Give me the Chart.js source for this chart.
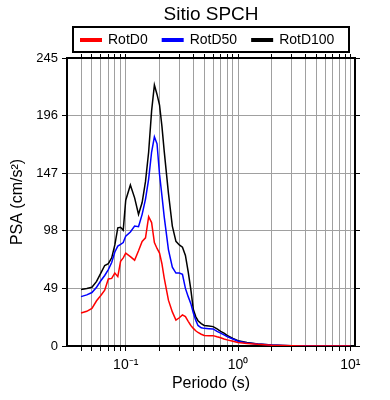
<!DOCTYPE html>
<html>
<head>
<meta charset="utf-8">
<script src="https://cdn.jsdelivr.net/npm/chart.js@4/dist/chart.umd.min.js"></script>
<style>
  html, body { margin: 0; padding: 0; background: #fff; }
</style>
</head>
<body>
<canvas id="psaChart" width="390" height="400"></canvas>
<script>
// Periodo (s)
const periods = [0.04, 0.045, 0.05, 0.055, 0.06, 0.065, 0.07, 0.075, 0.08, 0.085, 0.09, 0.095,
  0.1, 0.11, 0.12, 0.13, 0.14, 0.15, 0.16, 0.17, 0.18, 0.19, 0.2, 0.21, 0.22, 0.24, 0.26, 0.28,
  0.3, 0.32, 0.34, 0.36, 0.38, 0.4, 0.42, 0.44, 0.47, 0.5, 0.55, 0.6, 0.65, 0.7, 0.75, 0.8, 0.9,
  1.0, 1.2, 1.5, 2, 2.5, 3, 4, 5, 6, 8, 10];

// PSA (cm/s2)
const rotD0 = [28, 29.5, 32, 38.5, 43, 47.5, 57, 57.5, 62, 59, 72, 75,
  79, 76, 73, 81, 89, 92, 110, 105, 88, 83, 79, 70, 58, 39, 29, 22,
  24, 26.5, 25, 21, 17.5, 15, 13, 11.5, 10, 9, 8.8, 8.8, 7.8, 7, 6, 5.2, 4,
  3, 2.2, 1.4, 0.7, 0.4, 0.2, 0.1, 0.06, 0.03, 0.02, 0.01];

const rotD50 = [42, 43.5, 45.5, 50, 55.5, 60, 65, 71, 80, 85, 86.5, 88,
  93.5, 97, 102, 101.5, 112, 125, 142, 165, 178, 172, 146, 128, 110, 82, 67, 62,
  62, 61, 49, 42, 36, 28, 22, 17.5, 15.5, 15, 14.7, 14.5, 12.5, 11, 9.5, 8, 6,
  4, 2.6, 1.6, 0.8, 0.45, 0.25, 0.12, 0.08, 0.04, 0.02, 0.01];

const rotD100 = [48, 49, 50, 55, 62, 68.5, 70, 75, 86, 100.5, 101, 98.5,
  124, 137, 126, 112, 122, 140, 165, 200, 222, 214, 205, 187, 166, 130, 102, 89,
  86, 84, 77, 63, 48, 31, 25, 21.5, 19, 17.5, 17, 16.5, 14.5, 12.5, 11, 9, 6.5,
  4.5, 3, 1.8, 0.9, 0.5, 0.3, 0.15, 0.1, 0.05, 0.02, 0.01];

const seriesNames = ['RotD0', 'RotD50', 'RotD100'];
const seriesColors = ['#ff0000', '#0000ff', '#000000'];
const seriesValues = [rotD0, rotD50, rotD100];

const yTicks = [0, 49, 98, 147, 196, 245];
const xGrid = [0.04, 0.05, 0.06, 0.07, 0.08, 0.09,
  0.1, 0.2, 0.3, 0.4, 0.5, 0.6, 0.7, 0.8, 0.9,
  1, 2, 3, 4, 5, 6, 7, 8, 9, 10];
const xLabels = { '0.1': '10\u207B\u00B9', '1': '10\u2070', '10': '10\u00B9' };

const chartTitle = 'Sitio SPCH';
const FONT = '"Liberation Sans", Arial, sans-serif';

const gridColor = '#a0a0a0';

function setXTicks(scale) {
  scale.ticks = xGrid.map(v => ({ value: v }));
}
function setYTicks(scale) {
  scale.ticks = yTicks.map(v => ({ value: v }));
}

// title + boxed legend drawn above the plot
const headerPlugin = {
  id: 'header',
  afterDraw(chart) {
    const ctx = chart.ctx;
    const area = chart.chartArea;
    ctx.save();
    ctx.fillStyle = '#000';
    ctx.textBaseline = 'middle';
    ctx.textAlign = 'center';
    ctx.font = '19px ' + FONT;
    ctx.fillText(chartTitle, (area.left + area.right) / 2, 15);

    ctx.lineWidth = 2;
    ctx.strokeStyle = '#000';
    ctx.strokeRect(73, 27, 276, 25);

    ctx.font = '14px ' + FONT;
    ctx.textAlign = 'left';
    let x = 80;
    chart.data.datasets.forEach(ds => {
      ctx.strokeStyle = ds.borderColor;
      ctx.lineWidth = 4;
      ctx.beginPath();
      ctx.moveTo(x, 40);
      ctx.lineTo(x + 22, 40);
      ctx.stroke();
      ctx.fillStyle = '#000';
      ctx.fillText(ds.label, x + 28, 40);
      x += 28 + ctx.measureText(ds.label).width + 14;
    });
    ctx.restore();
  }
};

new Chart(document.getElementById('psaChart'), {
  type: 'line',
  data: {
    datasets: seriesNames.map((name, i) => ({
      label: name,
      data: periods.map((p, j) => ({ x: p, y: seriesValues[i][j] })),
      borderColor: seriesColors[i],
      backgroundColor: seriesColors[i],
      borderWidth: 1.5,
      pointRadius: 0,
      tension: 0,
      fill: false
    }))
  },
  options: {
    responsive: false,
    animation: false,
    layout: { padding: 0 },
    plugins: {
      legend: { display: false },
      title: { display: false },
      tooltip: { enabled: false }
    },
    scales: {
      x: {
        type: 'logarithmic',
        position: 'bottom',
        min: 0.03,
        max: 11,
        afterBuildTicks: setXTicks,
        afterFit: s => { s.height = 54; },
        grid: { color: gridColor, tickColor: '#000', tickLength: 5, lineWidth: 1 },
        border: { color: '#000', width: 2 },
        ticks: {
          autoSkip: false,
          maxRotation: 0,
          padding: 6,
          color: '#000',
          font: { family: FONT, size: 14 },
          callback: v => xLabels[String(v)] || ''
        },
        title: {
          display: true,
          text: 'Periodo (s)',
          color: '#000',
          font: { family: FONT, size: 16 },
          padding: { top: 0, bottom: 7 }
        }
      },
      xTop: {
        type: 'logarithmic',
        position: 'top',
        min: 0.03,
        max: 11,
        afterBuildTicks: setXTicks,
        afterFit: s => { s.height = 58; },
        grid: { drawOnChartArea: false, tickColor: '#000', tickLength: 4 },
        border: { color: '#000', width: 2 },
        ticks: { display: false }
      },
      y: {
        position: 'left',
        min: 0,
        max: 245,
        afterBuildTicks: setYTicks,
        afterFit: s => { s.width = 67; },
        grid: { color: gridColor, tickColor: '#000', tickLength: 5 },
        border: { color: '#000', width: 2 },
        ticks: {
          padding: 4,
          color: '#000',
          font: { family: FONT, size: 13 }
        },
        title: {
          display: true,
          text: 'PSA (cm/s\u00B2)',
          color: '#000',
          font: { family: FONT, size: 16 },
          padding: { top: 8, bottom: 0 }
        }
      },
      yRight: {
        position: 'right',
        min: 0,
        max: 245,
        afterBuildTicks: setYTicks,
        afterFit: s => { s.width = 35; },
        grid: { drawOnChartArea: false, tickColor: '#000', tickLength: 5 },
        border: { color: '#000', width: 2 },
        ticks: { display: false }
      }
    }
  },
  plugins: [headerPlugin]
});
</script>
</body>
</html>
